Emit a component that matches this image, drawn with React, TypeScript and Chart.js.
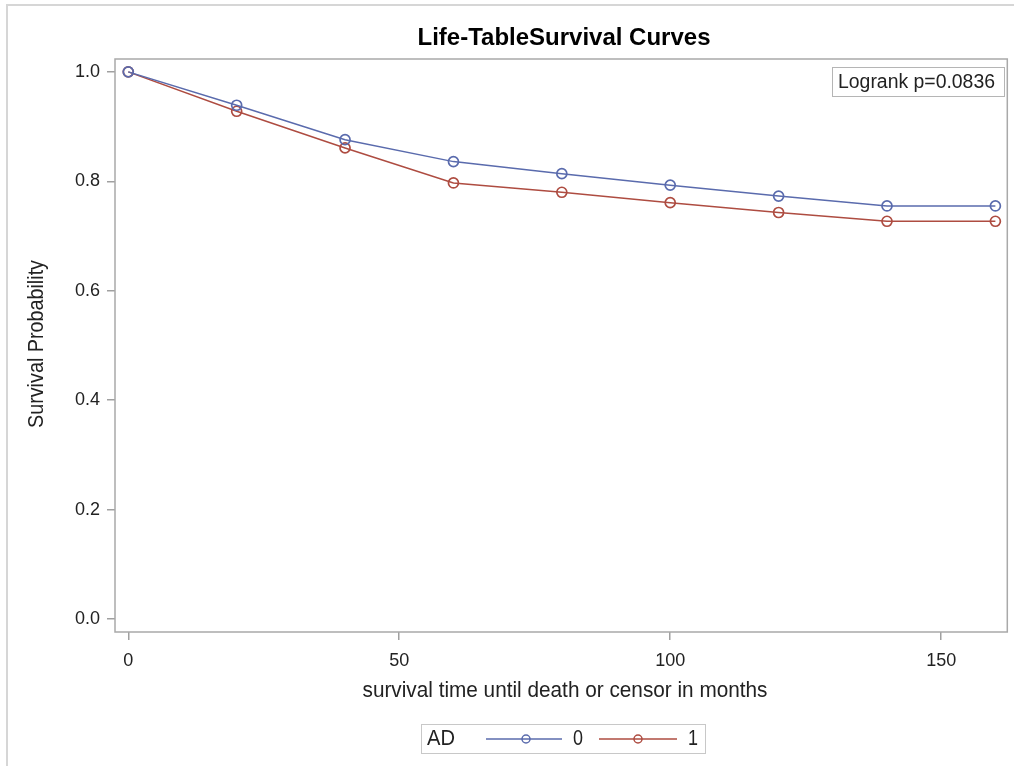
import React, { useEffect, useRef } from "react";
import { Chart, registerables } from "chart.js";

Chart.register(...registerables);

const months = [0, 20, 40, 60, 80, 100, 120, 140, 160];
const survivalAD0 = [1.0, 0.939, 0.876, 0.836, 0.814, 0.793, 0.773, 0.755, 0.755];
const survivalAD1 = [1.0, 0.928, 0.861, 0.797, 0.78, 0.761, 0.743, 0.727, 0.727];
const xTicks = [0, 50, 100, 150];
const yTicks = [0, 0.2, 0.4, 0.6, 0.8, 1.0];
const groupLabels = ["0", "1"];

const chartTitle = "Life-TableSurvival Curves";
const xTitle = "survival time until death or censor in months";
const yTitle = "Survival Probability";
const insetText = "Logrank p=0.0836";
const legendTitle = "AD";

const BLUE = "#5a6bad";
const RED = "#ae4c41";
const FONT = '"Liberation Sans", Arial, sans-serif';

// draw text with a horizontal squeeze so it fits a target width (condensed look)
function fitText(
  ctx: CanvasRenderingContext2D,
  text: string,
  x: number,
  y: number,
  targetW: number,
  align: "left" | "center"
) {
  const w = ctx.measureText(text).width;
  const s = Math.min(1, targetW / w);
  ctx.save();
  ctx.translate(x, y);
  ctx.scale(s, 1);
  ctx.textAlign = align;
  ctx.fillText(text, 0, 0);
  ctx.restore();
}

const decorPlugin = {
  id: "decor",
  afterDraw(chart: any) {
    const ctx = chart.ctx as CanvasRenderingContext2D;
    const a = chart.chartArea;
    ctx.save();
    // outer frame
    ctx.strokeStyle = "#d6d6d6";
    ctx.lineWidth = 2;
    ctx.beginPath();
    ctx.moveTo(7, 766);
    ctx.lineTo(7, 5);
    ctx.lineTo(1014, 5);
    ctx.stroke();
    // plot border
    ctx.strokeStyle = "#a9a9a9";
    ctx.lineWidth = 1.5;
    ctx.strokeRect(a.left, a.top, a.right - a.left, a.bottom - a.top);
    // title
    ctx.fillStyle = "#000";
    ctx.textBaseline = "middle";
    ctx.font = `bold 24px ${FONT}`;
    fitText(ctx, chartTitle, 564, 38, 298, "center");
    // axis titles
    ctx.fillStyle = "#222";
    ctx.font = `22px ${FONT}`;
    fitText(ctx, xTitle, 565, 691, 405, "center");
    ctx.save();
    ctx.translate(37, 344);
    ctx.rotate(-Math.PI / 2);
    fitText(ctx, yTitle, 0, 0, 168, "center");
    ctx.restore();
    // inset box
    ctx.strokeStyle = "#b5b5b5";
    ctx.lineWidth = 1;
    ctx.strokeRect(832.5, 67.5, 172, 29);
    ctx.font = `20px ${FONT}`;
    ctx.fillStyle = "#222";
    fitText(ctx, insetText, 838, 82, 157, "left");
    // legend
    ctx.strokeStyle = "#c8c8c8";
    ctx.strokeRect(421.5, 724.5, 284, 29);
    ctx.font = `22px ${FONT}`;
    fitText(ctx, legendTitle, 427, 739, 28, "left");
    const items = [
      { color: BLUE, x0: 486, x1: 562, mx: 526, tx: 573, label: groupLabels[0] },
      { color: RED, x0: 599, x1: 677, mx: 638, tx: 688, label: groupLabels[1] },
    ];
    items.forEach((it) => {
      ctx.strokeStyle = it.color;
      ctx.lineWidth = 1.5;
      ctx.beginPath();
      ctx.moveTo(it.x0, 739);
      ctx.lineTo(it.x1, 739);
      ctx.stroke();
      ctx.beginPath();
      ctx.arc(it.mx, 739, 4, 0, Math.PI * 2);
      ctx.stroke();
      ctx.fillStyle = "#222";
      fitText(ctx, it.label, it.tx, 739, 10, "left");
    });
    ctx.restore();
  },
};

export default function App() {
  const ref = useRef<HTMLCanvasElement>(null);
  useEffect(() => {
    if (!ref.current) return;
    const mkSet = (label: string, vals: number[], color: string) => ({
      label,
      data: months.map((m, i) => ({ x: m, y: vals[i] })),
      borderColor: color,
      backgroundColor: "transparent",
      borderWidth: 1.5,
      pointRadius: 5,
      pointBorderWidth: 1.7,
      pointBackgroundColor: "transparent",
      pointBorderColor: color,
      tension: 0,
    });
    const chart = new Chart(ref.current, {
      type: "line",
      data: {
        datasets: [
          mkSet(groupLabels[0], survivalAD0, BLUE),
          mkSet(groupLabels[1], survivalAD1, RED),
        ],
      },
      options: {
        responsive: false,
        animation: false,
        layout: { padding: { left: 0, top: 59, right: 6, bottom: 0 } },
        plugins: { legend: { display: false }, title: { display: false }, tooltip: { enabled: false } },
        scales: {
          x: {
            type: "linear",
            min: -2.45,
            max: 162.2,
            afterFit: (s: any) => { s.height = 134; },
            afterBuildTicks: (s: any) => { s.ticks = xTicks.map((v) => ({ value: v })); },
            grid: { drawOnChartArea: false, tickLength: 8, color: "#a0a0a0", lineWidth: 1.5 },
            border: { display: false },
            ticks: { color: "#222", font: { family: FONT, size: 18 }, padding: 10, maxRotation: 0 },
          },
          y: {
            type: "linear",
            min: -0.0235,
            max: 1.0235,
            afterFit: (s: any) => { s.width = 115; },
            afterBuildTicks: (s: any) => { s.ticks = yTicks.map((v) => ({ value: v })); },
            grid: { drawOnChartArea: false, tickLength: 8, color: "#a0a0a0", lineWidth: 1.5 },
            border: { display: false },
            ticks: {
              color: "#222",
              font: { family: FONT, size: 18 },
              padding: 7,
              callback: (v: any) => Number(v).toFixed(1),
            },
          },
        },
      },
      plugins: [decorPlugin],
    });
    return () => chart.destroy();
  }, []);
  return (
    <div style={{ position: "fixed", left: 0, top: 0, width: 1014, height: 766, background: "#fff" }}>
      <canvas ref={ref} width={1014} height={766} style={{ width: 1014, height: 766 }} />
    </div>
  );
}
